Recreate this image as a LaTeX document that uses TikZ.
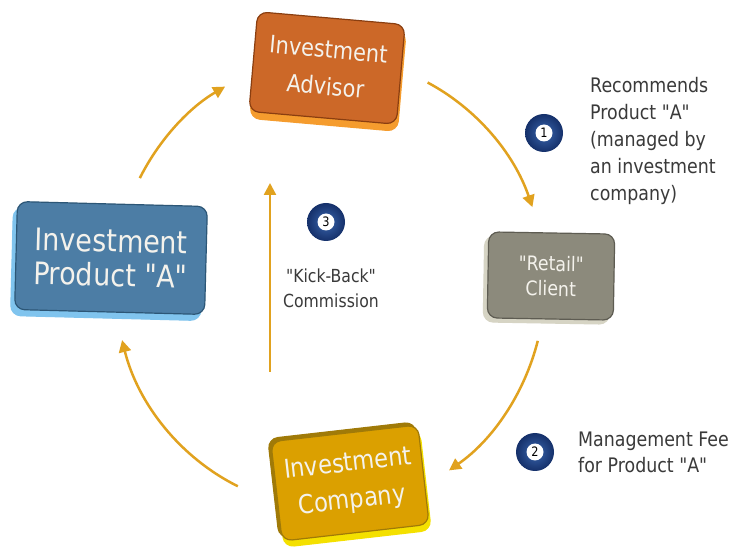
\documentclass[tikz,border=0pt]{standalone}
\usepackage{fontspec}
\setmainfont{DejaVu Sans}[FakeStretch=0.87, Ligatures=TeXOff]
\usetikzlibrary{arrows.meta,shadows}
\definecolor{advfill}{HTML}{CC6828}
\definecolor{advdark}{HTML}{8A3E10}
\definecolor{advrim}{HTML}{F59C2E}
\definecolor{clifill}{HTML}{8C8A7C}
\definecolor{clidark}{HTML}{5E5C52}
\definecolor{clirim}{HTML}{D6D4C4}
\definecolor{prodfill}{HTML}{4C7DA5}
\definecolor{proddark}{HTML}{2C5676}
\definecolor{prodrim}{HTML}{80C4EE}
\definecolor{compfill}{HTML}{DBA000}
\definecolor{compdark}{HTML}{A07A08}
\definecolor{comprim}{HTML}{F4E000}
\definecolor{flowc}{HTML}{E1A21F}
\definecolor{ballin}{HTML}{3A66AE}
\definecolor{ballout}{HTML}{15306A}
\definecolor{txt}{HTML}{3A3A3A}
\definecolor{boxtxt}{HTML}{F4F2EC}
\begin{document}
\begin{tikzpicture}[x=1pt,y=-1pt,
  box/.style={rectangle, rounded corners=10pt, line width=1.2pt, align=center,
    inner sep=0pt, text=boxtxt},
  flow/.style={draw=flowc, line width=2.5pt, -{Triangle[length=12pt,width=12pt]}},
  ballst/.style={circle, minimum size=38pt, inner sep=0pt, shading=radial,
    inner color=ballin, outer color=ballout},
  digit/.style={circle, fill=white, minimum size=17pt, inner sep=0pt,
    font=\fontsize{13}{13}\selectfont, text=black},
  note/.style={align=left, inner sep=0pt, text=txt, font=\fontsize{20}{27}\selectfont}]
\useasboundingbox (0,0) rectangle (729,553);
\fill[white] (0,0) rectangle (729,553);

% boxes
\node[box, draw=advdark, fill=advfill, minimum width=148pt, minimum height=100pt, rotate=-5,
  copy shadow={shadow xshift=1pt, shadow yshift=-7pt, fill=advrim, draw=advrim},
  font=\fontsize{24}{37}\selectfont] (adv) at (327,68) {Investment\\Advisor};

\node[box, draw=clidark, fill=clifill, minimum width=126pt, minimum height=86pt, rotate=-1,
  copy shadow={shadow xshift=-4pt, shadow yshift=-4pt, fill=clirim, draw=clirim},
  font=\fontsize{20}{25}\selectfont] (cli) at (551,276) {"Retail"\\Client};

\node[box, draw=proddark, fill=prodfill, minimum width=190pt, minimum height=108pt, rotate=-1.5,
  copy shadow={shadow xshift=-4pt, shadow yshift=-6pt, fill=prodrim, draw=prodrim},
  font=\fontsize{31}{34}\selectfont] (prod) at (111,258) {Investment\\Product "A"};

\node[box, draw=compdark, fill=compfill, minimum width=148pt, minimum height=100pt, rotate=6.5,
  copy shadow={shadow xshift=2pt, shadow yshift=-6pt, fill=comprim, draw=comprim},
  copy shadow={shadow xshift=-3pt, shadow yshift=3pt, fill=compdark, draw=compdark},
  font=\fontsize{26}{37}\selectfont] (comp) at (350,483) {Investment\\Company};

% arc connectors
\coordinate (c0) at (330,283);
\coordinate (a1s) at ([shift={(-63:215 and 225)}]c0);
\coordinate (a2s) at ([shift={(14.9:215 and 225)}]c0);
\coordinate (a3s) at ([shift={(115.4:215 and 225)}]c0);
\coordinate (a4s) at ([shift={(-152.2:215 and 225)}]c0);
\draw[flow] (a1s) arc[start angle=-63, end angle=-19.7, x radius=215, y radius=225];
\draw[flow] (a2s) arc[start angle=14.9, end angle=56.4, x radius=215, y radius=225];
\draw[flow] (a3s) arc[start angle=115.4, end angle=165.3, x radius=215, y radius=225];
\draw[flow] (a4s) arc[start angle=-152.2, end angle=-119.2, x radius=215, y radius=225];

\coordinate (k0) at (270,372);
\coordinate (k1) at (270,183);
\draw[flow] (k0) -- (k1);

% numbered balls
\node[ballst] (b1) at (544,133) {};
\node[digit] (d1) at (b1) {1};
\node[ballst] (b2) at (535,452) {};
\node[digit] (d2) at (b2) {2};
\node[ballst] (b3) at (326,222) {};
\node[digit] (d3) at (b3) {3};

% notes
\node[note, anchor=north west] (n1) at (590,77)
  {Recommends\\Product "A"\\(managed by\\an investment\\company)};
\node[note, anchor=north west, font=\fontsize{20}{26}\selectfont] (n2) at (578,432)
  {Management Fee\\for Product "A"};
\node[note, align=center, anchor=north, font=\fontsize{18}{25}\selectfont] (n3) at (331,269)
  {"Kick-Back"\\Commission};
\end{tikzpicture}
\end{document}
